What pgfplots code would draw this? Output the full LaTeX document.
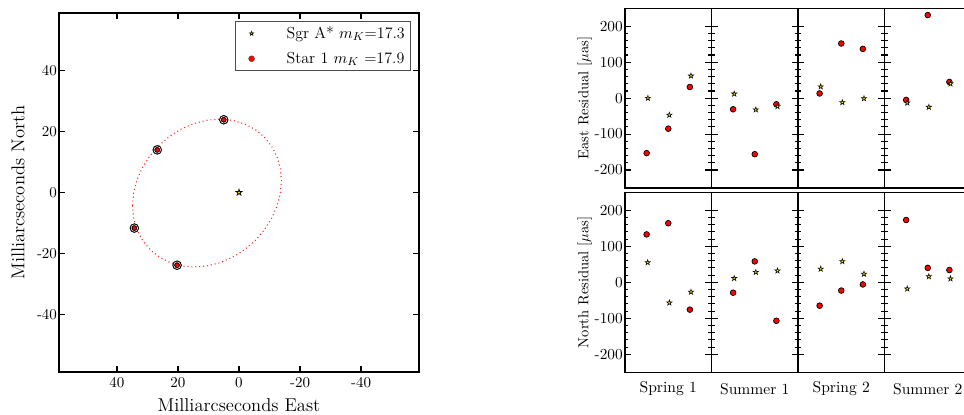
\documentclass[border=0pt]{standalone}
\usepackage{pgfplots}
\pgfplotsset{compat=1.18}
\pgfdeclareplotmark{fstar}{%
  \pgfpathmoveto{\pgfpoint{0pt}{\pgfplotmarksize}}%
  \pgfpathlineto{\pgfpoint{-0.2245\pgfplotmarksize}{0.3090\pgfplotmarksize}}%
  \pgfpathlineto{\pgfpoint{-0.9511\pgfplotmarksize}{0.3090\pgfplotmarksize}}%
  \pgfpathlineto{\pgfpoint{-0.3633\pgfplotmarksize}{-0.1180\pgfplotmarksize}}%
  \pgfpathlineto{\pgfpoint{-0.5878\pgfplotmarksize}{-0.8090\pgfplotmarksize}}%
  \pgfpathlineto{\pgfpoint{0pt}{-0.382\pgfplotmarksize}}%
  \pgfpathlineto{\pgfpoint{0.5878\pgfplotmarksize}{-0.8090\pgfplotmarksize}}%
  \pgfpathlineto{\pgfpoint{0.3633\pgfplotmarksize}{-0.1180\pgfplotmarksize}}%
  \pgfpathlineto{\pgfpoint{0.9511\pgfplotmarksize}{0.3090\pgfplotmarksize}}%
  \pgfpathlineto{\pgfpoint{0.2245\pgfplotmarksize}{0.3090\pgfplotmarksize}}%
  \pgfpathclose
  \pgfusepathqfillstroke
}
\pgfplotsset{
  resid/.style={scale only axis, width=60.55pt, height=#1,
    xmin=0, xmax=4, ymin=-250, ymax=250,
    ytick={-200,-100,0,100,200}, yticklabels={}, minor y tick num=4,
    xtick=\empty, ytick pos=left, tick align=center,
    major tick length=8.8pt, minor tick length=4.4pt,
    axis line style={line width=0.9pt},
    tick style={line width=0.8pt, black},
    yticklabel style={font=\fontsize{10.7}{12}\selectfont, inner xsep=1.4pt},
    every axis y label/.style={at={(axis description cs:-0.465,0.5)}, rotate=90, anchor=center, font=\fontsize{10.2}{12}\selectfont},
    every axis x label/.style={at={(axis description cs:0.5,0)}, anchor=center, yshift=-11.5pt, font=\fontsize{10.9}{12}\selectfont},
    clip=false},
  firstcol/.style={yticklabels={-200,-100,0,100,200}, tick align=inside, major tick length=4.4pt, minor tick length=2.2pt},
  circ/.style={only marks, mark=*, mark size=2pt, mark options={fill=red, draw=black, line width=0.5pt}},
  sstar/.style={only marks, mark=fstar, mark size=1.9pt, mark options={fill=yellow, draw=black, line width=0.4pt}},
}
\begin{document}
\begin{tikzpicture}
% ---------------- left orbit plot
\begin{axis}[at={(41.3pt,30.1pt)}, anchor=south west,
  scale only axis, width=252pt, height=251.3pt,
  xmin=-59, xmax=59, ymin=-59, ymax=59, x dir=reverse,
  xtick={-40,-20,0,20,40}, xticklabels={-40,-20,0,20,40},
  ytick={-40,-20,0,20,40}, yticklabels={-40,-20,0,20,40},
  tick align=inside, major tick length=4pt,
  axis line style={line width=0.9pt},
  tick style={line width=0.8pt, black},
  ticklabel style={font=\fontsize{10.5}{12}\selectfont},
  yticklabel style={inner xsep=1.2pt},
  xlabel={Milliarcseconds East}, ylabel={Milliarcseconds North},
  every axis y label/.style={at={(axis description cs:-0.1139,0.5)}, rotate=90, anchor=center, font=\fontsize{13}{15}\selectfont},
  every axis x label/.style={at={(axis description cs:0.5,0)}, anchor=center, yshift=-23.1pt, font=\fontsize{13}{15}\selectfont},
  legend style={at={(0.978,0.978)}, anchor=north east, draw=black!70, line width=0.8pt,
    font=\fontsize{11.2}{13}\selectfont, inner xsep=2pt, inner ysep=1.5pt, row sep=4pt,
    cells={anchor=west}},
  legend image code/.code={\path[draw=none] (0cm,0cm) -- (1.12cm,0cm); \draw[#1] plot coordinates {(0.33cm,0cm)};},
]
\addlegendimage{only marks, mark=fstar, mark size=1.5pt, mark options={fill=yellow, draw=black, line width=0.4pt}}
\addlegendentry{Sgr A* $m_K$=17.3}
\addlegendimage{only marks, mark=*, mark size=2.1pt, mark options={fill=red, draw=black!70, line width=0.3pt}}
\addlegendentry{Star 1 $m_K$ =17.9}
\addplot[forget plot, red, opacity=0.85, dotted, line width=0.75pt] coordinates {
(34.90,-4.29) (34.53,-0.07) (33.43,4.15) (31.63,8.23) (29.19,12.06) (26.18,15.52)
(22.70,18.50) (18.85,20.91) (14.74,22.68) (10.50,23.75) (6.26,24.10) (2.15,23.71)
(-1.70,22.59) (-5.18,20.78) (-8.19,18.33) (-10.63,15.32) (-12.43,11.84) (-13.53,7.99)
(-13.90,3.89) (-13.53,-0.33) (-12.43,-4.55) (-10.63,-8.63) (-8.19,-12.46) (-5.18,-15.92)
(-1.70,-18.90) (2.15,-21.31) (6.26,-23.08) (10.50,-24.15) (14.74,-24.50) (18.85,-24.11)
(22.70,-22.99) (26.18,-21.18) (29.19,-18.73) (31.63,-15.72) (33.43,-12.24) (34.53,-8.39)
(34.90,-4.29)};
\addplot[forget plot, only marks, mark=*, mark size=3.1pt, mark options={fill=black, draw=black}] coordinates {(5.0,23.9) (26.8,14.0) (34.3,-11.7) (20.3,-23.9)};
\addplot[forget plot, only marks, mark=o, mark size=2.3pt, mark options={draw=white, line width=0.4pt}] coordinates {(5.0,23.9) (26.8,14.0) (34.3,-11.7) (20.3,-23.9)};
\addplot[forget plot, only marks, mark=*, mark size=1.6pt, mark options={fill=red, draw=black, line width=0.4pt}] coordinates {(5.0,23.9) (26.8,14.0) (34.3,-11.7) (20.3,-23.9)};
\addplot[forget plot, only marks, mark=fstar, mark size=2.2pt, mark options={fill=yellow, draw=black, line width=0.5pt}] coordinates {(0,0)};
\end{axis}
% ---------------- East residuals (top row)
\begin{axis}[resid=125.8pt, firstcol, at={(437.5pt,158.9pt)}, anchor=south west, ylabel={East Residual [$\mu$as]}]
\addplot[circ] coordinates {(1,-153) (2,-85) (3,31)};
\addplot[sstar] coordinates {(1.06,0) (2.05,-47) (3.05,62)};
\end{axis}
\begin{axis}[resid=125.8pt, at={(498.05pt,158.9pt)}, anchor=south west]
\addplot[circ] coordinates {(1,-31) (2,-156) (3,-17)};
\addplot[sstar] coordinates {(1.05,12) (2.05,-32) (3.05,-23)};
\end{axis}
\begin{axis}[resid=125.8pt, at={(558.6pt,158.9pt)}, anchor=south west]
\addplot[circ] coordinates {(1,13) (2,152) (3,137)};
\addplot[sstar] coordinates {(1.05,32) (2.05,-12) (3.05,-1)};
\end{axis}
\begin{axis}[resid=125.8pt, at={(619.15pt,158.9pt)}, anchor=south west]
\addplot[circ] coordinates {(1,-5) (2,231) (3,45)};
\addplot[sstar] coordinates {(1.05,-13) (2.05,-25) (3.05,40)};
\end{axis}
% ---------------- North residuals (bottom row)
\begin{axis}[resid=126pt, firstcol, at={(437.5pt,29.9pt)}, anchor=south west, ylabel={North Residual [$\mu$as]}, xlabel={Spring 1}]
\addplot[circ] coordinates {(1,133) (2,164) (3,-76)};
\addplot[sstar] coordinates {(1.05,55) (2.05,-57) (3.05,-27)};
\end{axis}
\begin{axis}[resid=126pt, at={(498.05pt,29.9pt)}, anchor=south west, xlabel={Summer 1}]
\addplot[circ] coordinates {(1,-29) (2,58) (3,-107)};
\addplot[sstar] coordinates {(1.05,11) (2.05,28) (3.05,32)};
\end{axis}
\begin{axis}[resid=126pt, at={(558.6pt,29.9pt)}, anchor=south west, xlabel={Spring 2}]
\addplot[circ] coordinates {(1,-65) (2,-23) (3,-6)};
\addplot[sstar] coordinates {(1.05,37) (2.05,58) (3.05,23)};
\end{axis}
\begin{axis}[resid=126pt, at={(619.15pt,29.9pt)}, anchor=south west, xlabel={Summer 2}]
\addplot[circ] coordinates {(1,173) (2,40) (3,34)};
\addplot[sstar] coordinates {(1.05,-18) (2.05,16) (3.05,10)};
\end{axis}
\pgfresetboundingbox
\useasboundingbox (0pt,0pt) rectangle (674.8pt,290.5pt);
\end{tikzpicture}
\end{document}
